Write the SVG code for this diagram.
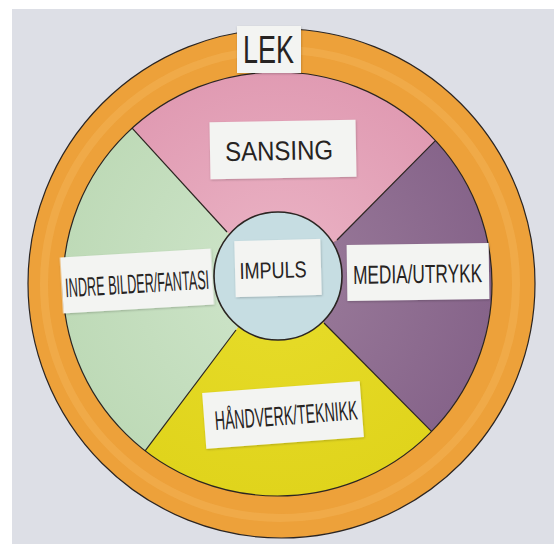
<svg xmlns="http://www.w3.org/2000/svg" width="555" height="546" viewBox="0 0 555 546">
  <defs>
    <radialGradient id="gPink" gradientUnits="userSpaceOnUse" cx="278" cy="280" r="215">
      <stop offset="0.3" stop-color="#e8adc0"/>
      <stop offset="1" stop-color="#e09ab2"/>
    </radialGradient>
    <radialGradient id="gPurple" gradientUnits="userSpaceOnUse" cx="278" cy="280" r="215">
      <stop offset="0.3" stop-color="#957596"/>
      <stop offset="1" stop-color="#86648a"/>
    </radialGradient>
    <radialGradient id="gYellow" gradientUnits="userSpaceOnUse" cx="278" cy="280" r="215">
      <stop offset="0.3" stop-color="#e5da26"/>
      <stop offset="1" stop-color="#e0d41c"/>
    </radialGradient>
    <radialGradient id="gGreen" gradientUnits="userSpaceOnUse" cx="278" cy="280" r="215">
      <stop offset="0.3" stop-color="#cae2c5"/>
      <stop offset="1" stop-color="#bedab7"/>
    </radialGradient>
    <filter id="shadow" x="-10%" y="-10%" width="120%" height="130%">
      <feDropShadow dx="0.5" dy="1" stdDeviation="0.8" flood-color="#000" flood-opacity="0.22"/>
    </filter>
  </defs>
  <style>
    .ink { fill: none; stroke: #2b2522; stroke-width: 1.2; }
    .label { fill: #f3f4f2; filter: url(#shadow); }
    .txt { font-family: "Liberation Sans", Arial, sans-serif; fill: #262322; text-anchor: middle; }
  </style>

  <!-- photo background -->
  <rect x="0" y="0" width="555" height="546" fill="#ffffff"/>
  <rect x="12" y="9" width="542" height="535" fill="#dddfe6"/>

  <!-- outer orange ring -->
  <g id="ring">
    <ellipse cx="281.5" cy="283.5" rx="253.5" ry="254.5" fill="#eda13a" stroke="#2b2522" stroke-width="1.2"/>
    <ellipse cx="280" cy="284" rx="236" ry="234" fill="none" stroke="#f3b65a" stroke-width="8" opacity="0.45"/>
  </g>

  <!-- sectors -->
  <g id="sectors">
    <path id="sansing-sector" d="M132.1,128.2 A214.5,212 0 0 1 435.4,140.6 L337,240 L278,276 L227,232 Z" fill="url(#gPink)"/>
    <path id="media-sector" d="M435.4,140.6 A214.5,212 0 0 1 431.5,431.4 L324,323 L278,276 L337,240 Z" fill="url(#gPurple)"/>
    <path id="handverk-sector" d="M431.5,431.4 A214.5,212 0 0 1 145.1,450.9 L236,330 L278,276 L324,323 Z" fill="url(#gYellow)"/>
    <path id="indre-sector" d="M145.1,450.9 A214.5,212 0 0 1 132.1,128.2 L227,232 L278,276 L236,330 Z" fill="url(#gGreen)"/>
    <ellipse class="ink" cx="277.5" cy="284" rx="214.5" ry="212"/>
  </g>

  <!-- dividing lines -->
  <g id="connectors">
    <line class="ink" x1="227" y1="232" x2="132.1" y2="128.2"/>
    <line class="ink" x1="337" y1="240" x2="435.4" y2="140.6"/>
    <line class="ink" x1="324" y1="323" x2="431.5" y2="431.4"/>
    <line class="ink" x1="236" y1="330" x2="145.1" y2="450.9"/>
  </g>

  <!-- center circle -->
  <g id="impuls">
    <circle cx="278" cy="276" r="64" fill="#c6dde2" stroke="#2b2522" stroke-width="1.6"/>
    <g transform="rotate(-1.5 278 268)">
      <rect class="label" x="235" y="240" width="86" height="56"/>
      <text class="txt" x="273" y="278" font-size="23" textLength="67" lengthAdjust="spacingAndGlyphs">IMPULS</text>
    </g>
  </g>

  <g id="lek">
    <rect class="label" x="237" y="26" width="64" height="47"/>
    <text class="txt" x="268.5" y="63" font-size="39" textLength="51" lengthAdjust="spacingAndGlyphs">LEK</text>
  </g>

  <g id="sansing">
    <g transform="rotate(-1 283 150)">
      <rect class="label" x="210" y="121" width="146" height="57"/>
      <text class="txt" x="279" y="160" font-size="27" textLength="108" lengthAdjust="spacingAndGlyphs">SANSING</text>
    </g>
  </g>

  <g id="indre">
    <g transform="rotate(-3.4 137 281)">
      <rect class="label" x="61.5" y="253" width="151" height="56"/>
      <text class="txt" x="137" y="293" font-size="27" textLength="144" lengthAdjust="spacingAndGlyphs">INDRE BILDER/FANTASI</text>
    </g>
  </g>

  <g id="media">
    <g transform="rotate(-0.8 418 272)">
      <rect class="label" x="347" y="244" width="142" height="56"/>
      <text class="txt" x="417.5" y="283" font-size="26" textLength="129" lengthAdjust="spacingAndGlyphs">MEDIA/UTRYKK</text>
    </g>
  </g>

  <g id="handverk">
    <g transform="rotate(-4.3 283 415)">
      <rect class="label" x="204" y="387" width="158" height="56"/>
      <text class="txt" x="286" y="425" font-size="27" textLength="143" lengthAdjust="spacingAndGlyphs">HÅNDVERK/TEKNIKK</text>
    </g>
  </g>
</svg>
